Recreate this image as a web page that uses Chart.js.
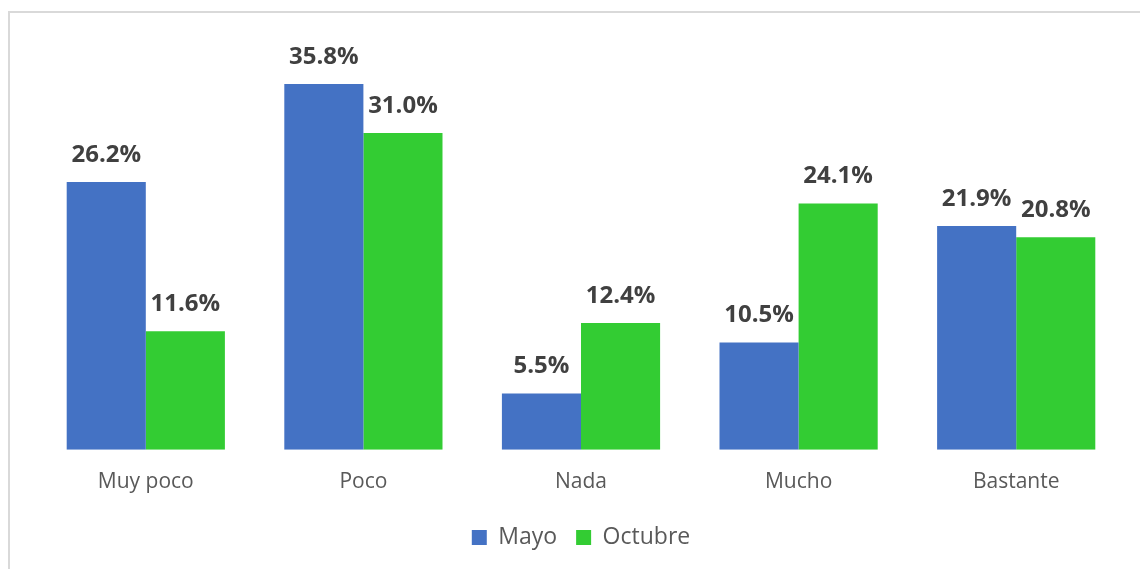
<!DOCTYPE html>
<html>
<head>
<meta charset="utf-8">
<script src="https://cdn.jsdelivr.net/npm/chart.js@4"></script>
<style>
    html, body { margin: 0; padding: 0; background: #fff; overflow: hidden; }
    #frame { position: absolute; left: 8px; top: 11px; width: 1300px; height: 700px; border: 2px solid #d9d9d9; box-sizing: border-box; }
    #wrap { position: absolute; left: 0; top: 0; width: 1140px; height: 569px; }
</style>
</head>
<body>
<div id="frame"></div>
<div id="wrap"><canvas id="chart"></canvas></div>
<script>
// 데이터
const categories = ['Muy poco', 'Poco', 'Nada', 'Mucho', 'Bastante'];
const mayo = [26.2, 35.8, 5.5, 10.5, 21.9];
const octubre = [11.6, 31.0, 12.4, 24.1, 20.8];
const seriesNames = ['Mayo', 'Octubre'];

const FONT = '"Open Sans", "Noto Sans", sans-serif';

// 막대 위 값 표시
const valueLabels = {
    id: 'valueLabels',
    afterDatasetsDraw(chart) {
        const ctx = chart.ctx;
        ctx.save();
        ctx.font = 'bold 24px ' + FONT;
        ctx.fillStyle = '#404040';
        ctx.textAlign = 'center';
        ctx.textBaseline = 'middle';
        chart.data.datasets.forEach((ds, i) => {
            chart.getDatasetMeta(i).data.forEach((bar, j) => {
                ctx.fillText(ds.data[j].toFixed(1) + '%', bar.x, bar.y - 27);
            });
        });
        ctx.restore();
    }
};

new Chart(document.getElementById('chart'), {
    type: 'bar',
    data: {
        labels: categories,
        datasets: [
            { label: seriesNames[0], data: mayo, backgroundColor: '#4472c4' },
            { label: seriesNames[1], data: octubre, backgroundColor: '#33cc33' }
        ]
    },
    options: {
        responsive: true,
        maintainAspectRatio: false,
        animation: false,
        layout: { padding: { left: 37, right: 15, top: 41, bottom: 10 } },
        datasets: { bar: { categoryPercentage: 0.727, barPercentage: 1.0 } },
        plugins: {
            legend: {
                position: 'bottom',
                labels: {
                    color: '#595959',
                    font: { family: FONT, size: 23 },
                    boxWidth: 15,
                    boxHeight: 15,
                    padding: 19
                }
            },
            tooltip: { enabled: false }
        },
        scales: {
            x: {
                grid: { display: false },
                border: { display: false },
                ticks: { color: '#595959', font: { family: FONT, size: 21 }, padding: 12 }
            },
            y: { display: false, min: 0, max: 40 }
        }
    },
    plugins: [valueLabels]
});
</script>
</body>
</html>
